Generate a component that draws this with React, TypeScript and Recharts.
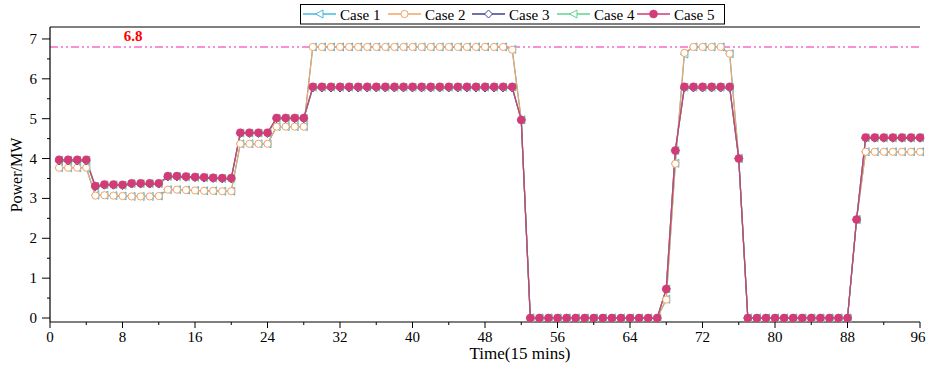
import React from 'react';
import { LineChart, Line, XAxis, YAxis, ReferenceLine, Legend } from 'recharts';

const time = Array.from({ length: 96 }, (_, i) => i + 1);

const case1 = [
  3.77, 3.77, 3.77, 3.77,
  3.08, 3.08, 3.07, 3.06, 3.05, 3.05, 3.05, 3.06,
  3.22, 3.22, 3.21, 3.2, 3.19, 3.19, 3.18, 3.18,
  4.37, 4.37, 4.37, 4.37,
  4.8, 4.8, 4.8, 4.8,
  6.8, 6.8, 6.8, 6.8, 6.8, 6.8, 6.8, 6.8, 6.8, 6.8, 6.8,
  6.8, 6.8, 6.8, 6.8, 6.8, 6.8, 6.8, 6.8, 6.8, 6.8, 6.8,
  6.74,
  4.97,
  0, 0, 0, 0, 0, 0, 0, 0, 0, 0, 0, 0, 0, 0, 0,
  0.47, 3.88,
  6.62, 6.8, 6.8, 6.8, 6.8, 6.63,
  4.0,
  0, 0, 0, 0, 0, 0, 0, 0, 0, 0, 0, 0,
  2.47,
  4.17, 4.17, 4.17, 4.17, 4.17, 4.17, 4.17,
];

const case2 = [
  3.77, 3.77, 3.77, 3.77,
  3.07, 3.08, 3.07, 3.06, 3.05, 3.05, 3.05, 3.06,
  3.22, 3.22, 3.21, 3.2, 3.19, 3.19, 3.18, 3.18,
  4.37, 4.37, 4.37, 4.37,
  4.8, 4.8, 4.8, 4.8,
  6.8, 6.8, 6.8, 6.8, 6.8, 6.8, 6.8, 6.8, 6.8, 6.8, 6.8,
  6.8, 6.8, 6.8, 6.8, 6.8, 6.8, 6.8, 6.8, 6.8, 6.8, 6.8,
  6.73,
  4.97,
  0, 0, 0, 0, 0, 0, 0, 0, 0, 0, 0, 0, 0, 0, 0,
  0.46, 3.87,
  6.65, 6.8, 6.8, 6.8, 6.8, 6.63,
  4.0,
  0, 0, 0, 0, 0, 0, 0, 0, 0, 0, 0, 0,
  2.47,
  4.17, 4.17, 4.17, 4.17, 4.17, 4.17, 4.17,
];

const case3 = [
  3.94, 3.94, 3.94, 3.94,
  3.29, 3.33, 3.33, 3.32, 3.36, 3.36, 3.36, 3.36,
  3.54, 3.54, 3.53, 3.52, 3.51, 3.5, 3.49, 3.49,
  4.63, 4.63, 4.63, 4.63,
  5.0, 5.0, 5.0, 5.0,
  5.77, 5.77, 5.77, 5.77, 5.77, 5.77, 5.77, 5.77, 5.77, 5.77, 5.77, 5.77,
  5.77, 5.77, 5.77, 5.77, 5.77, 5.77, 5.77, 5.77, 5.77, 5.77, 5.77,
  4.97,
  0, 0, 0, 0, 0, 0, 0, 0, 0, 0, 0, 0, 0, 0, 0,
  0.73, 4.2,
  5.77, 5.77, 5.77, 5.77, 5.77, 5.77,
  4.0,
  0, 0, 0, 0, 0, 0, 0, 0, 0, 0, 0, 0,
  2.47,
  4.51, 4.51, 4.51, 4.51, 4.51, 4.51, 4.51,
];

const case4 = [
  3.96, 3.96, 3.96, 3.96,
  3.3, 3.34, 3.34, 3.33, 3.37, 3.37, 3.37, 3.37,
  3.55, 3.55, 3.54, 3.53, 3.52, 3.51, 3.5, 3.5,
  4.64, 4.64, 4.64, 4.64,
  5.01, 5.01, 5.01, 5.01,
  5.79, 5.79, 5.79, 5.79, 5.79, 5.79, 5.79, 5.79, 5.79, 5.79, 5.79, 5.79,
  5.79, 5.79, 5.79, 5.79, 5.79, 5.79, 5.79, 5.79, 5.79, 5.79, 5.79,
  4.97,
  0, 0, 0, 0, 0, 0, 0, 0, 0, 0, 0, 0, 0, 0, 0,
  0.73, 4.2,
  5.79, 5.79, 5.79, 5.79, 5.79, 5.79,
  4.0,
  0, 0, 0, 0, 0, 0, 0, 0, 0, 0, 0, 0,
  2.47,
  4.52, 4.52, 4.52, 4.52, 4.52, 4.52, 4.52,
];

const case5 = [
  3.97, 3.97, 3.97, 3.97,
  3.31, 3.35, 3.35, 3.34, 3.38, 3.38, 3.38, 3.38,
  3.56, 3.56, 3.55, 3.54, 3.53, 3.52, 3.51, 3.51,
  4.65, 4.65, 4.65, 4.65,
  5.02, 5.02, 5.02, 5.02,
  5.8, 5.8, 5.8, 5.8, 5.8, 5.8, 5.8, 5.8, 5.8, 5.8, 5.8, 5.8,
  5.8, 5.8, 5.8, 5.8, 5.8, 5.8, 5.8, 5.8, 5.8, 5.8, 5.8,
  4.97,
  0, 0, 0, 0, 0, 0, 0, 0, 0, 0, 0, 0, 0, 0, 0,
  0.73, 4.2,
  5.8, 5.8, 5.8, 5.8, 5.8, 5.8,
  4.0,
  0, 0, 0, 0, 0, 0, 0, 0, 0, 0, 0, 0,
  2.47,
  4.53, 4.53, 4.53, 4.53, 4.53, 4.53, 4.53,
];

const xTicks = [0, 4, 8, 12, 16, 20, 24, 28, 32, 36, 40, 44, 48, 52, 56, 60, 64, 68, 72, 76, 80, 84, 88, 92, 96];
const yTicks = [0, 0.5, 1, 1.5, 2, 2.5, 3, 3.5, 4, 4.5, 5, 5.5, 6, 6.5, 7];

const FONT = '"Liberation Serif", "Times New Roman", serif';

const series = [
  { key: 'c1', name: 'Case 1', color: '#45b8e6', shape: 'tri' },
  { key: 'c2', name: 'Case 2', color: '#f3a463', shape: 'circle' },
  { key: 'c3', name: 'Case 3', color: '#3f428c', shape: 'diamond' },
  { key: 'c4', name: 'Case 4', color: '#63d48c', shape: 'tri' },
  { key: 'c5', name: 'Case 5', color: '#d23a78', shape: 'dot' },
];

const data = time.map((t, i) => ({
  t,
  c1: case1[i],
  c2: case2[i],
  c3: case3[i],
  c4: case4[i],
  c5: case5[i],
}));

function Marker({ cx, cy, shape, color }: { cx: number; cy: number; shape: string; color: string }) {
  if (cx == null || cy == null) return null;
  if (shape === 'tri') {
    return (
      <path
        d={`M${cx - 4},${cy} L${cx + 3.5},${cy - 4} L${cx + 3.5},${cy + 4} Z`}
        fill="#fff"
        stroke={color}
        strokeWidth={1}
      />
    );
  }
  if (shape === 'diamond') {
    return (
      <path
        d={`M${cx},${cy - 4} L${cx + 4},${cy} L${cx},${cy + 4} L${cx - 4},${cy} Z`}
        fill="#fff"
        stroke={color}
        strokeWidth={1}
      />
    );
  }
  if (shape === 'circle') {
    return <circle cx={cx} cy={cy} r={3.6} fill="#fff" stroke={color} strokeWidth={1} />;
  }
  return <circle cx={cx} cy={cy} r={4} fill={color} stroke={color} strokeWidth={0.5} />;
}

function XTick({ x, y, payload }: any) {
  const major = payload.value % 8 === 0;
  // last label would be clipped by the svg edge
  const tx = payload.value === 96 ? x - 2 : x;
  return (
    <g>
      <line x1={x} y1={y} x2={x} y2={y + (major ? 6 : 3)} stroke="#000" strokeWidth={1} />
      {major && (
        <text x={tx} y={y + 20} textAnchor="middle" fontFamily={FONT} fontSize={15} fill="#000">
          {payload.value}
        </text>
      )}
    </g>
  );
}

function YTick({ x, y, payload }: any) {
  const major = Number.isInteger(payload.value);
  return (
    <g>
      <line x1={x} y1={y} x2={x - (major ? 8 : 3)} y2={y} stroke="#000" strokeWidth={1} />
      {major && (
        <text x={x - 13} y={y + 5} textAnchor="end" fontFamily={FONT} fontSize={15} fill="#000">
          {payload.value}
        </text>
      )}
    </g>
  );
}

const legendX = [3, 88, 172, 257, 337];

function LegendBox() {
  return (
    <svg width={426} height={21} style={{ display: 'block' }}>
      <rect x={0.5} y={0.5} width={424} height={19.5} fill="#fff" stroke="#000" strokeWidth={1} />
      {series.map((s, i) => {
        const lx = legendX[i];
        return (
          <g key={s.key}>
            <line x1={lx} y1={10} x2={lx + 33} y2={10} stroke={s.color} strokeWidth={1.3} />
            <Marker cx={lx + 16.5} cy={10} shape={s.shape} color={s.color} />
            <text x={lx + 37} y={15.5} fontFamily={FONT} fontSize={15} fill="#000">
              {s.name}
            </text>
          </g>
        );
      })}
    </svg>
  );
}

export default function App() {
  return (
    <div style={{ position: 'absolute', left: 0, top: 0, width: 926, height: 365, background: '#fff' }}>
      <LineChart width={926} height={365} data={data} margin={{ top: 27, right: 6, bottom: 0, left: 0 }}>
        <XAxis
          dataKey="t"
          type="number"
          domain={[0, 96]}
          ticks={xTicks}
          interval={0}
          tickSize={0}
          tickMargin={0}
          tickLine={false}
          tick={<XTick />}
          axisLine={{ stroke: '#000', strokeWidth: 1.2 }}
          height={43}
        />
        <YAxis
          type="number"
          domain={[-0.1, 7.3]}
          allowDataOverflow
          ticks={yTicks}
          interval={0}
          tickSize={0}
          tickMargin={0}
          tickLine={false}
          tick={<YTick />}
          axisLine={{ stroke: '#000', strokeWidth: 1.2 }}
          width={50}
        />
        <ReferenceLine y={7.3} stroke="#000" strokeWidth={1.2} />
        <ReferenceLine
          y={6.8}
          stroke="#f56cc6"
          strokeWidth={1.4}
          strokeDasharray="8 3 2 3 2 3"
          label={(props: any) => (
            <text
              x={props.viewBox.x + 83}
              y={props.viewBox.y - 6}
              textAnchor="middle"
              fontFamily={FONT}
              fontSize={15}
              fontWeight="bold"
              fill="#ff0000"
            >
              6.8
            </text>
          )}
        />
        {series.map((s) => (
          <Line
            key={s.key}
            dataKey={s.key}
            name={s.name}
            type="linear"
            stroke={s.color}
            strokeWidth={1.2}
            isAnimationActive={false}
            activeDot={false}
            dot={(p: any) => <Marker key={`${s.key}-${p.index}`} cx={p.cx} cy={p.cy} shape={s.shape} color={s.color} />}
          />
        ))}
        <Legend
          layout="vertical"
          verticalAlign="middle"
          align="center"
          content={() => <LegendBox />}
          wrapperStyle={{ position: 'absolute', top: 4, left: 300, width: 426, height: 21 }}
        />
      </LineChart>
      <div
        style={{
          position: 'absolute',
          left: 520,
          top: 346,
          transform: 'translateX(-50%)',
          fontFamily: FONT,
          fontSize: 17,
          whiteSpace: 'nowrap',
          lineHeight: '15px',
        }}
      >
        Time(15 mins)
      </div>
      <div
        style={{
          position: 'absolute',
          left: 17,
          top: 175,
          transform: 'translate(-50%, -50%) rotate(-90deg)',
          fontFamily: FONT,
          fontSize: 16,
          whiteSpace: 'nowrap',
        }}
      >
        Power/MW
      </div>
    </div>
  );
}
